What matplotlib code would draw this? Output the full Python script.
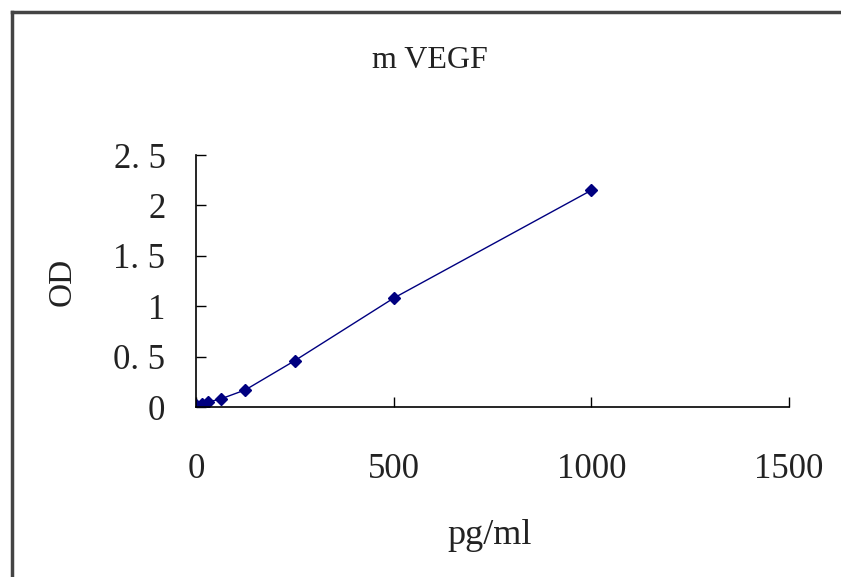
import numpy as np
import matplotlib.pyplot as plt
from matplotlib.lines import Line2D

# standard curve, m VEGF
conc = [0, 15.6, 31.25, 62.5, 125, 250, 500, 1000]
od = [0.02, 0.03, 0.05, 0.08, 0.17, 0.46, 1.08, 2.15]

xticks = [0, 500, 1000, 1500]
yticks = [0, 0.5, 1, 1.5, 2, 2.5]
ytick_labels = ["0", "0. 5", "1", "1. 5", "2", "2. 5"]

plt.rcParams['font.family'] = ['Liberation Serif', 'DejaVu Serif']

W, H = 841, 577
fig = plt.figure(figsize=(W / 100, H / 100), dpi=100)
ax = fig.add_axes([196 / W, 1 - 407 / H, (789 - 196) / W, (407 - 155) / H])

ax.plot(conc, od, color='#000080', lw=1, marker='D', ms=6,
        markerfacecolor='#000080', markeredgecolor='#000080')

ax.set_xlim(0, 1500)
ax.set_ylim(0, 2.5)
ax.set_xticks(xticks)
ax.set_yticks(yticks)
ax.set_yticklabels(ytick_labels)
ax.tick_params(direction='in', length=7, width=1, colors='black', labelsize=25)
ax.tick_params(axis='x', pad=33)
ax.tick_params(axis='y', pad=22)
for lbl in ax.get_xticklabels() + ax.get_yticklabels():
    lbl.set_color('#222222')
for side in ['top', 'right']:
    ax.spines[side].set_visible(False)
for side in ['left', 'bottom']:
    ax.spines[side].set_linewidth(1.2)

fig.text(62 / W, 1 - 282 / H, "OD", fontsize=24, rotation=90,
         ha='center', va='center', color='#222222')
fig.text(490 / W, 1 - 535 / H, "pg/ml", fontsize=26,
         ha='center', va='center', color='#222222')
fig.text(430 / W, 1 - 60 / H, "m VEGF", fontsize=23,
         ha='center', va='center', color='#222222')

# outer frame (only left and top edges visible in the crop)
fig.add_artist(Line2D([12 / W, 12 / W], [0, 1 - 12 / H], color='#444444', lw=2.5,
                      transform=fig.transFigure))
fig.add_artist(Line2D([12 / W, 1.0], [1 - 12 / H, 1 - 12 / H], color='#444444', lw=2.5,
                      transform=fig.transFigure))

fig.savefig("out.png", dpi=100)
